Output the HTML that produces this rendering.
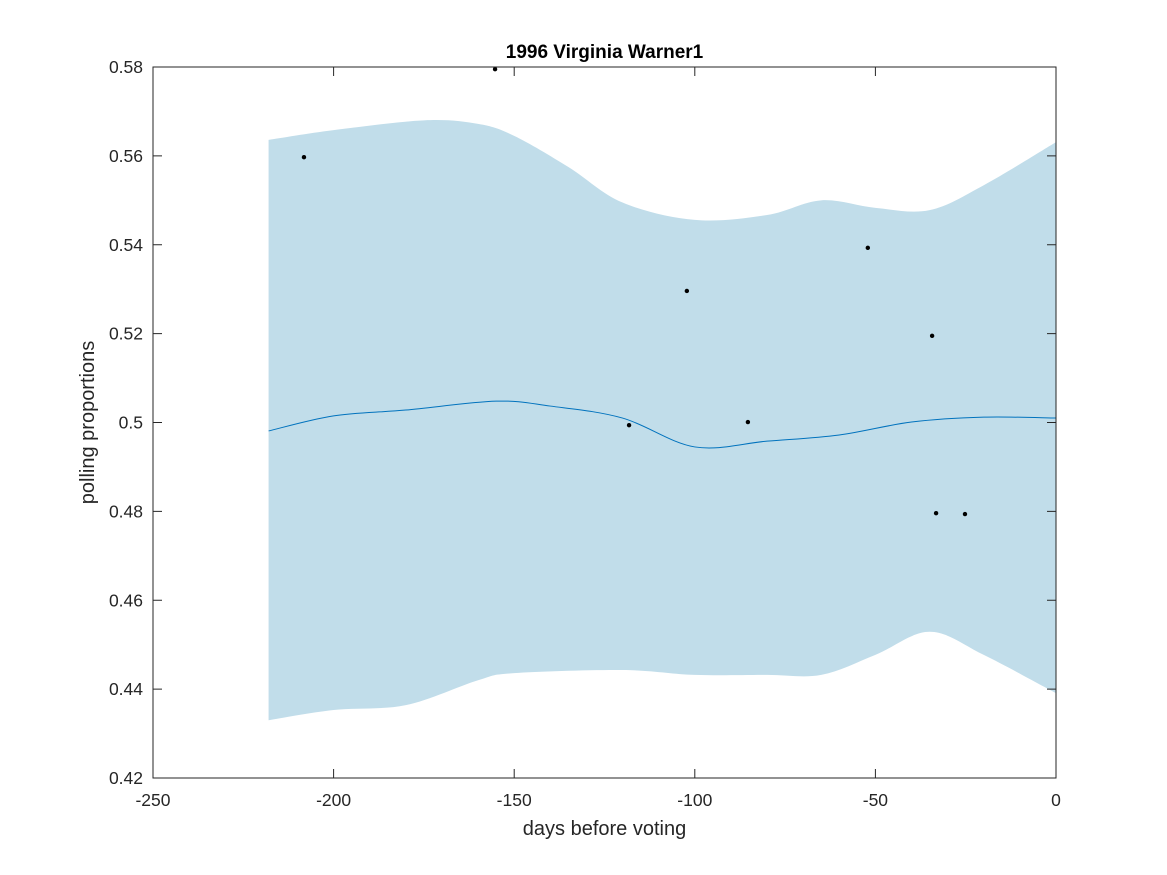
<!DOCTYPE html>
<html><head><meta charset="utf-8"><style>
body{margin:0;background:#fff;}
svg{display:block;font-family:"Liberation Sans",Arial,sans-serif;}
</style></head><body>
<svg id="chart" width="1167" height="875" viewBox="0 0 1167 875" xmlns="http://www.w3.org/2000/svg">
<rect width="1167" height="875" fill="#fff"/>
<g id="plot"></g>
</svg>
<script>
const pointX=[-208.2,-155.3,-102.2,-118.2,-85.3,-52.1,-34.3,-33.2,-25.2];
const pointY=[0.5597,0.5795,0.5296,0.4994,0.5001,0.5393,0.5195,0.4796,0.4794];
const meanX=[-218,-200,-180,-155,-140,-120,-100,-80,-60,-40,-20,0];
const meanY=[0.4981,0.5015,0.5028,0.5048,0.5037,0.501,0.4945,0.4958,0.4972,0.5001,0.5012,0.501];
const upperX=[-218,-200,-175,-160,-150,-135,-120,-100,-80,-65,-50,-35,-20,0];
const upperY=[0.5636,0.5658,0.568,0.5672,0.5645,0.5575,0.5495,0.5456,0.5467,0.550,0.5483,0.5478,0.5534,0.5631];
const lowerX=[-218,-200,-180,-160,-150,-120,-100,-80,-65,-50,-35,-20,0];
const lowerY=[0.433,0.4353,0.4364,0.442,0.4436,0.4443,0.4432,0.4432,0.4432,0.4477,0.4529,0.4477,0.4391];
const xTicks=[-250,-200,-150,-100,-50,0];
const yTicks=[0.42,0.44,0.46,0.48,0.5,0.52,0.54,0.56,0.58];
const yTickLabels=["0.42","0.44","0.46","0.48","0.5","0.52","0.54","0.56","0.58"];

const L=153,R=1056,T=67,B=778;
const sx=v=>L+(v+250)/250*(R-L);
const sy=v=>B-(v-0.42)/0.16*(B-T);
const NS="http://www.w3.org/2000/svg";
const g=document.getElementById('plot');
function mk(tag,attrs){const e=document.createElementNS(NS,tag);for(const k in attrs)e.setAttribute(k,attrs[k]);g.appendChild(e);return e;}
function smooth(xs,ys){
  const p=xs.map((x,i)=>[sx(x),sy(ys[i])]);
  let d='';
  for(let i=0;i<p.length-1;i++){
    const p0=p[Math.max(0,i-1)],p1=p[i],p2=p[i+1],p3=p[Math.min(p.length-1,i+2)];
    const c1=[p1[0]+(p2[0]-p0[0])/6,p1[1]+(p2[1]-p0[1])/6];
    const c2=[p2[0]-(p3[0]-p1[0])/6,p2[1]-(p3[1]-p1[1])/6];
    if(i===0)d+='M'+p1[0]+','+p1[1];
    d+=' C'+c1[0]+','+c1[1]+' '+c2[0]+','+c2[1]+' '+p2[0]+','+p2[1];
  }
  return d;
}
const up=smooth(upperX,upperY);
const lo=smooth(lowerX.slice().reverse(),lowerY.slice().reverse());
const band=mk('path',{d:up+' L'+lo.slice(1)+' Z',fill:'#c1ddea',stroke:'none'});


const ml=mk('path',{d:smooth(meanX,meanY),fill:'none',stroke:'#0072bd','stroke-width':1});


pointX.forEach((x,i)=>{
  const c=mk('circle',{cx:sx(x),cy:sy(pointY[i]),r:2.2,fill:'#000'});
  
  
});
const box=mk('rect',{x:L,y:T,width:R-L,height:B-T,fill:'none',stroke:'#262626','stroke-width':1});


xTicks.forEach(v=>{
  const x=sx(v);
  mk('line',{x1:x,y1:B,x2:x,y2:B-9,stroke:'#262626'});
  mk('line',{x1:x,y1:T,x2:x,y2:T+9,stroke:'#262626'});
  const t=mk('text',{x:x,y:B+28,'text-anchor':'middle','font-size':17.5,fill:'#262626'});
  t.textContent=v;
  
  
});
yTicks.forEach((v,i)=>{
  const y=sy(v);
  mk('line',{x1:L,y1:y,x2:L+9,y2:y,stroke:'#262626'});
  mk('line',{x1:R,y1:y,x2:R-9,y2:y,stroke:'#262626'});
  const t=mk('text',{x:L-10,y:y+6,'text-anchor':'end','font-size':17.5,fill:'#262626'});
  t.textContent=yTickLabels[i];
  
  
});
const title=mk('text',{x:(L+R)/2,y:58,'text-anchor':'middle','font-size':19,'font-weight':'bold',fill:'#000'});
title.textContent='1996 Virginia Warner1';


const xl=mk('text',{x:(L+R)/2,y:835,'text-anchor':'middle','font-size':20,fill:'#262626'});
xl.textContent='days before voting';


const yl=mk('text',{x:0,y:0,'text-anchor':'middle','font-size':20,fill:'#262626',transform:'translate(94,'+((T+B)/2)+') rotate(-90)'});
yl.textContent='polling proportions';


</script>
</body></html>
